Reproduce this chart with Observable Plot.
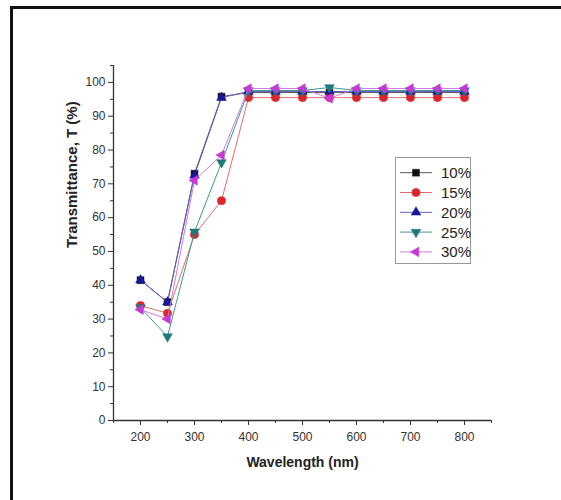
<!DOCTYPE html>
<html><head><meta charset="utf-8">
<script src="https://cdn.jsdelivr.net/npm/d3@7"></script>
<script src="https://cdn.jsdelivr.net/npm/@observablehq/plot@0.6"></script>
<style>
html,body{margin:0;padding:0;background:#fff;overflow:hidden;}
#wrap{position:relative;width:561px;height:500px;overflow:hidden;font-family:"Liberation Sans",Arial,sans-serif;}
#frame{position:absolute;left:10px;top:6px;width:700px;height:700px;border-left:3px solid #111;border-top:3px solid #111;}
#chart{position:absolute;left:0;top:0;}
#legend{position:absolute;left:395px;top:157px;}
</style></head><body>
<div id="wrap"><div id="frame"></div><div id="chart"></div><div id="legend"></div></div>
<script>
// ---- data ----
const wavelengths = [200, 250, 300, 350, 400, 450, 500, 550, 600, 650, 700, 750, 800];
const seriesNames = ["10%", "15%", "20%", "25%", "30%"];
const t10 = [41.5, 35.0, 73.0, 95.8, 97.0, 97.0, 97.0, 97.0, 97.0, 97.0, 97.0, 97.0, 97.0];
const t15 = [34.0, 31.7, 55.0, 65.0, 95.5, 95.5, 95.5, 95.5, 95.5, 95.5, 95.5, 95.5, 95.5];
const t20 = [41.5, 35.0, 72.5, 95.5, 97.3, 97.3, 97.3, 97.3, 97.3, 97.3, 97.3, 97.3, 97.3];
const t25 = [33.4, 24.8, 55.8, 76.3, 97.6, 97.6, 97.6, 98.5, 97.6, 97.6, 97.6, 97.6, 97.6];
const t30 = [32.8, 30.0, 71.0, 78.5, 98.2, 98.2, 98.2, 95.3, 98.2, 98.2, 98.2, 98.2, 98.2];
const xMajorTicks = [200, 300, 400, 500, 600, 700, 800];
const xMinorTicks = [150, 250, 350, 450, 550, 650, 750, 850];
const yMajorTicks = [0, 10, 20, 30, 40, 50, 60, 70, 80, 90, 100];
const yMinorTicks = [5, 15, 25, 35, 45, 55, 65, 75, 85, 95, 105];
const xTitle = "Wavelength (nm)";
const yTitle = "Transmittance, T (%)";

const allValues = [t10, t15, t20, t25, t30];
const colors = ["#111111", "#d8262b", "#17179c", "#1f7a78", "#c43ad6"];
const lineColors = ["#555555", "#e07070", "#6060c0", "#3f9896", "#d07be0"];

// custom symbols
const sqrt3 = Math.sqrt(3);
const triDown = {draw(ctx, size) {
  const y = -Math.sqrt(size / (sqrt3 * 3));
  ctx.moveTo(0, -y * 2); ctx.lineTo(-sqrt3 * y, y); ctx.lineTo(sqrt3 * y, y); ctx.closePath();
}};
const triLeft = {draw(ctx, size) {
  const y = -Math.sqrt(size / (sqrt3 * 3));
  ctx.moveTo(y * 2, 0); ctx.lineTo(-y, -sqrt3 * y); ctx.lineTo(-y, sqrt3 * y); ctx.closePath();
}};
const symbols = [d3.symbolSquare, d3.symbolCircle, d3.symbolTriangle, triDown, triLeft];
const sizes = [3.9, 4.1, 3.6, 3.6, 3.6];

const rows = [];
seriesNames.forEach((s, i) => wavelengths.forEach((w, j) => rows.push({series: s, x: w, y: allValues[i][j]})));

const marks = [];
marks.push(Plot.axisX(xMinorTicks, {tickSize: 3, tickFormat: () => "", label: null}));
marks.push(Plot.axisX(xMajorTicks, {tickSize: 5, tickPadding: 7, fontSize: 12, label: null}));
marks.push(Plot.axisY(yMinorTicks, {tickSize: 3, tickFormat: () => "", label: null}));
marks.push(Plot.axisY(yMajorTicks, {tickSize: 5, tickPadding: 3, fontSize: 12, label: null}));
marks.push(Plot.ruleY([0], {x1: 150, x2: 850, stroke: "#333", strokeWidth: 1.3}));
marks.push(Plot.ruleX([150], {y1: 0, y2: 105, stroke: "#333", strokeWidth: 1.3}));
seriesNames.forEach((s, i) => {
  const d = rows.filter(r => r.series === s);
  marks.push(Plot.line(d, {x: "x", y: "y", stroke: lineColors[i], strokeWidth: 1}));
  marks.push(Plot.dot(d, {x: "x", y: "y", symbol: symbols[i], r: sizes[i], fill: colors[i], stroke: colors[i], strokeWidth: 0.5}));
});
marks.push(Plot.text([xTitle], {text: d => d, frameAnchor: "bottom", dy: 46, fontSize: 14, fontWeight: "bold", fill: "#222"}));
marks.push(Plot.text([yTitle], {text: d => d, frameAnchor: "left", dx: -41, dy: 5, rotate: -90, fontSize: 15, fontWeight: "bold", fill: "#222"}));

const chart = Plot.plot({
  width: 561, height: 500,
  marginLeft: 113, marginRight: 70, marginTop: 65, marginBottom: 80,
  x: {domain: [150, 850]},
  y: {domain: [0, 105]},
  style: {background: "transparent", color: "#333", fontFamily: "'Liberation Sans', Arial, sans-serif"},
  marks
});
document.getElementById("chart").appendChild(chart);

// ---- legend ----
const lw = 76, lh = 107;
const lsvg = d3.select("#legend").append("svg").attr("width", lw).attr("height", lh);
lsvg.append("rect").attr("x", 0.5).attr("y", 0.5).attr("width", lw - 1).attr("height", lh - 1)
  .attr("fill", "#fff").attr("stroke", "#999").attr("stroke-width", 1);
seriesNames.forEach((s, i) => {
  const cy = 15.7 + i * 19.8;
  lsvg.append("line").attr("x1", 5).attr("x2", 37).attr("y1", cy).attr("y2", cy)
    .attr("stroke", lineColors[i]).attr("stroke-width", 1);
  lsvg.append("path").attr("transform", `translate(21,${cy})`)
    .attr("d", d3.symbol(symbols[i], Math.PI * sizes[i] * sizes[i])())
    .attr("fill", colors[i]).attr("stroke", colors[i]).attr("stroke-width", 0.5);
  lsvg.append("text").attr("x", 46).attr("y", cy).attr("dy", "0.36em")
    .attr("font-size", 15).attr("fill", "#222")
    .attr("font-family", "'Liberation Sans', Arial, sans-serif").text(s);
});
</script>
</body></html>
